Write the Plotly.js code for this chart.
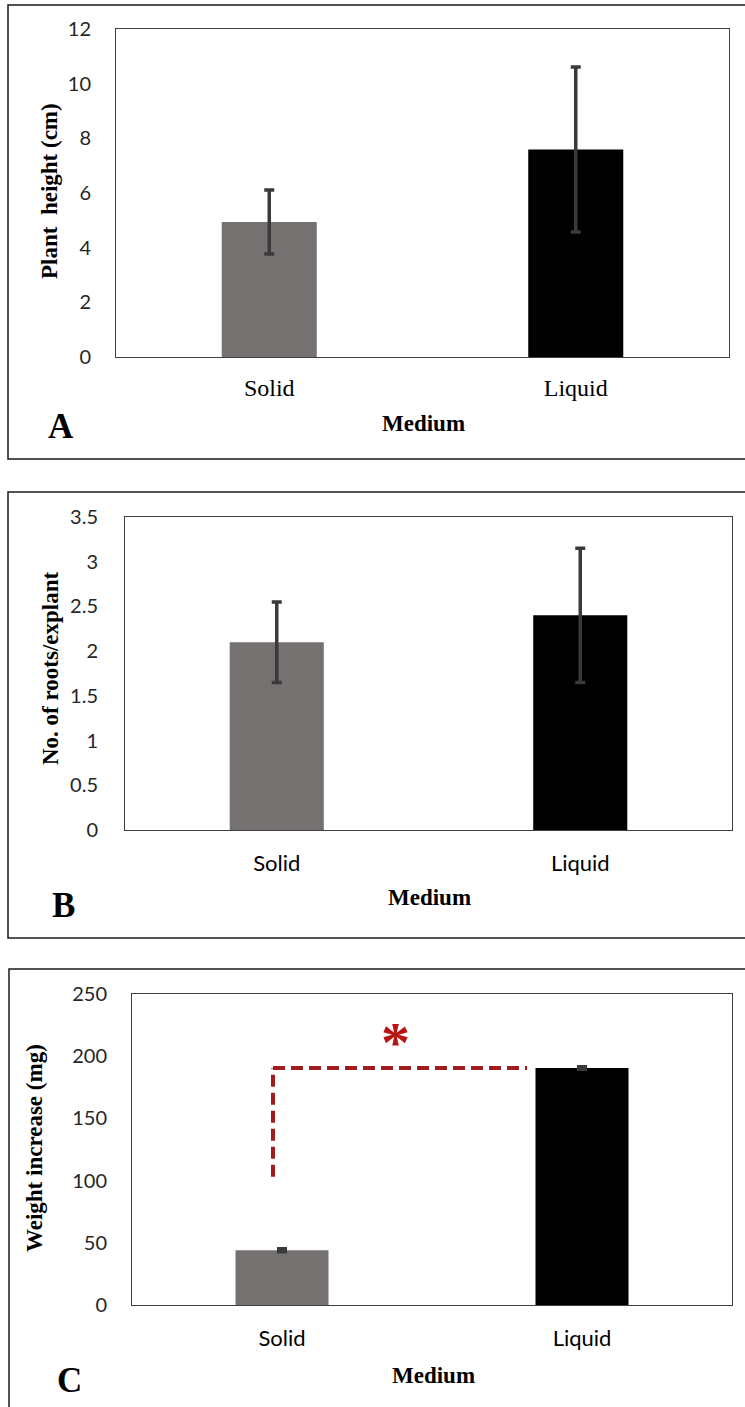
<!DOCTYPE html>
<html><head><meta charset="utf-8">
<script src="https://cdn.plot.ly/plotly-3.0.1.min.js"></script>
<style>html,body{margin:0;padding:0;background:#fff}</style>
</head><body><div id="chart" style="width:745px;height:1407px"></div>
<script>
// ---- data ----
const categories = ['Solid', 'Liquid'];
const heightMean = [4.94, 7.59];     // Plant height (cm)
const heightErr  = [1.17, 3.02];
const rootsMean  = [2.10, 2.40];     // No. of roots/explant
const rootsErr   = [0.45, 0.75];
const weightMean = [44, 190.5];      // Weight increase (mg)
const weightErr  = [1.2, 1.0];
const yTicksA = [0, 2, 4, 6, 8, 10, 12];
const yTicksB = [0, 0.5, 1, 1.5, 2, 2.5, 3, 3.5];
const yTicksC = [0, 50, 100, 150, 200, 250];
const sigBottom = 103;   // weight level where the significance bracket starts
const sigTop = 190.5;    // bracket level (Liquid mean)

// ---- style ----
const W = 745, H = 1407;
const px = x => x / W;
const py = y => 1 - y / H;
const barColors = ['#767171', '#000000'];
const errStyle = c => ({type: 'data', array: c, visible: true, color: '#3a3a3a', thickness: 3.5, width: 5});
const SERIF = 'Liberation Serif, Times New Roman, serif';
const SANS = 'Lato, Open Sans, sans-serif';

function bar(y, err, xa, ya) {
  return {type: 'bar', x: categories, y: y, xaxis: xa, yaxis: ya,
    marker: {color: barColors, line: {width: 0}}, error_y: errStyle(err), hoverinfo: 'skip'};
}
const data = [
  bar(heightMean, heightErr, 'x', 'y'),
  bar(rootsMean, rootsErr, 'x2', 'y2'),
  bar(weightMean, weightErr, 'x3', 'y3')
];

function xax(dom, anchor, font, len) {
  return {domain: dom, anchor: anchor, type: 'category', showline: true, mirror: true,
    linecolor: '#404040', linewidth: 1, showgrid: false, zeroline: false,
    ticks: 'outside', ticklen: len, tickcolor: 'rgba(0,0,0,0)', tickfont: font, fixedrange: true};
}
function yax(dom, anchor, range, tv, len) {
  return {domain: dom, anchor: anchor, range: range, tickvals: tv, showline: true, mirror: true,
    linecolor: '#404040', linewidth: 1, showgrid: false, zeroline: false,
    ticks: 'outside', ticklen: len, tickcolor: 'rgba(0,0,0,0)',
    tickfont: {family: SANS, size: 20, color: '#262626'}, fixedrange: true};
}

function ann(text, x, y, font, extra) {
  return Object.assign({text: text, xref: 'paper', yref: 'paper', x: px(x), y: py(y),
    xanchor: 'center', yanchor: 'middle', showarrow: false, font: font}, extra || {});
}
const titleFont = {family: SERIF, size: 23, color: '#000', weight: 'bold'};
const letterFont = {family: SERIF, size: 35, color: '#000', weight: 'bold'};

const layout = {
  width: W, height: H, margin: {l: 0, r: 0, t: 0, b: 0},
  paper_bgcolor: '#fff', plot_bgcolor: '#fff', showlegend: false, bargap: 0.69,
  xaxis:  xax([px(116), px(729)], 'y',  {family: SERIF, size: 24, color: '#000'}, 9),
  yaxis:  yax([py(357), py(29)], 'x', [0, 12], yTicksA, 20),
  xaxis2: xax([px(125), px(732)], 'y2', {family: SANS, size: 22, color: '#000'}, 14),
  yaxis2: yax([py(830), py(517)], 'x2', [0, 3.5], yTicksB, 22),
  xaxis3: xax([px(132), px(732)], 'y3', {family: SANS, size: 22, color: '#000'}, 14),
  yaxis3: yax([py(1305), py(994)], 'x3', [0, 250], yTicksC, 20),
  shapes: [
    {type: 'rect', xref: 'paper', yref: 'paper', x0: px(8), x1: px(760), y0: py(459), y1: py(5),
      line: {color: '#1a1a1a', width: 1.5}},
    {type: 'rect', xref: 'paper', yref: 'paper', x0: px(8), x1: px(760), y0: py(938), y1: py(492),
      line: {color: '#1a1a1a', width: 1.5}},
    {type: 'rect', xref: 'paper', yref: 'paper', x0: px(9), x1: px(760), y0: py(1420), y1: py(969),
      line: {color: '#1a1a1a', width: 1.5}},
    {type: 'line', xref: 'x3', yref: 'y3', x0: -0.03, x1: -0.03, y0: sigBottom, y1: sigTop,
      line: {color: '#a11d1d', width: 4, dash: '12px,6px'}},
    {type: 'line', xref: 'x3', yref: 'y3', x0: -0.03, x1: 0.817, y0: sigTop, y1: sigTop,
      line: {color: '#a11d1d', width: 4, dash: '12px,6px'}}
  ],
  annotations: [
    ann('Plant  height (cm)', 49, 191, titleFont, {textangle: -90}),
    ann('No. of roots/explant', 50, 669, titleFont, {textangle: -90}),
    ann('Weight increase (mg)', 34, 1148, titleFont, {textangle: -90}),
    ann('Medium', 423, 423, titleFont),
    ann('Medium', 429, 898, titleFont),
    ann('Medium', 433, 1375, titleFont),
    ann('A', 61, 426, letterFont),
    ann('B', 63, 905, letterFont),
    ann('C', 69, 1380, letterFont),
    ann('*', 395, 1042, {family: SERIF, size: 58, color: '#b81414', weight: 'bold'})
  ]
};

Plotly.newPlot('chart', data, layout, {staticPlot: true, displayModeBar: false});
</script>
</body></html>
